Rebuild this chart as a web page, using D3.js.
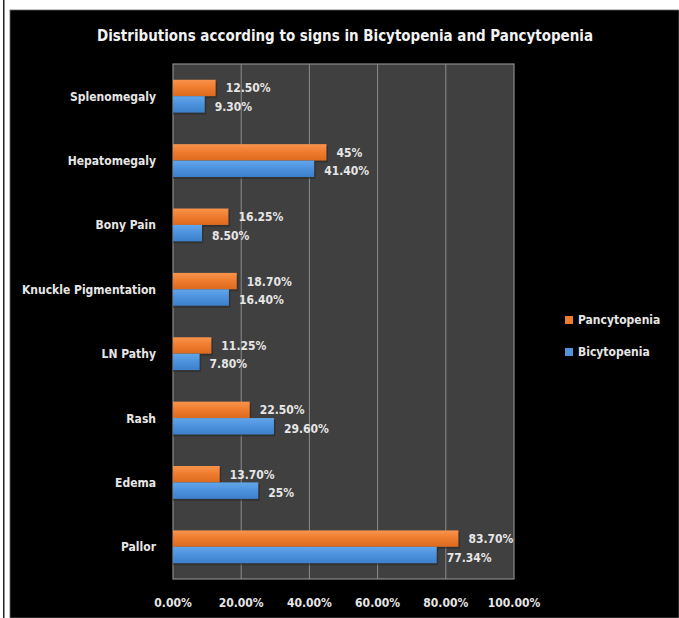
<!DOCTYPE html>
<html>
<head>
<meta charset="utf-8">
<script src="https://cdn.jsdelivr.net/npm/d3@7"></script>
<style>
	body { margin: 0; background: #fff; }
	text { font-family: "DejaVu Sans Condensed", "DejaVu Sans", sans-serif; font-weight: bold; fill: #e6e6e6; }
</style>
</head>
<body>
<div id="chart"></div>
<script>
var categories = ["Splenomegaly", "Hepatomegaly", "Bony Pain", "Knuckle Pigmentation", "LN Pathy", "Rash", "Edema", "Pallor"];
var seriesNames = ["Pancytopenia", "Bicytopenia"];
var pancytopenia = [12.5, 45, 16.25, 18.7, 11.25, 22.5, 13.7, 83.7];
var bicytopenia = [9.3, 41.4, 8.5, 16.4, 7.8, 29.6, 25, 77.34];
var pancyLabels = ["12.50%", "45%", "16.25%", "18.70%", "11.25%", "22.50%", "13.70%", "83.70%"];
var bicyLabels = ["9.30%", "41.40%", "8.50%", "16.40%", "7.80%", "29.60%", "25%", "77.34%"];
var tickValues = [0, 20, 40, 60, 80, 100];
var tickLabels = ["0.00%", "20.00%", "40.00%", "60.00%", "80.00%", "100.00%"];

(function() {
	var width = 679, height = 618;

	var svg = d3.select("#chart")
		.append("svg")
		.attr("width", width)
		.attr("height", height)

	// page frame: white with a thin dark line, chart area black
	svg.append("rect").attr("x", 3).attr("y", 0).attr("width", 1.5).attr("height", height).attr("fill", "#222")
	svg.append("rect").attr("x", 10).attr("y", 10).attr("width", width - 10).attr("height", height - 10)
		.attr("fill", "#000").attr("stroke", "#666").attr("stroke-width", 0.8)

	var defs = svg.append("defs")
	var grads = [
		{id: "gOrange", stops: ["#f8944c", "#ee7b2d", "#dc6a1f"]},
		{id: "gBlue", stops: ["#62a6ea", "#4b91dc", "#3d80cb"]}
	]
	grads.forEach(function(g) {
		var lg = defs.append("linearGradient").attr("id", g.id).attr("x1", 0).attr("y1", 0).attr("x2", 0).attr("y2", 1)
		lg.append("stop").attr("offset", "0%").attr("stop-color", g.stops[0])
		lg.append("stop").attr("offset", "50%").attr("stop-color", g.stops[1])
		lg.append("stop").attr("offset", "100%").attr("stop-color", g.stops[2])
	})

	var left = 173, right = 514, top = 64, bottom = 579;

	var x = d3.scaleLinear().domain([0, 100]).range([left, right])
	var y = d3.scaleBand().domain(categories).range([top, bottom]).paddingInner(0.49).paddingOuter(0.245)
	var sub = d3.scaleBand().domain(seriesNames).range([0, y.bandwidth()])

	// plot area
	svg.append("rect").attr("x", left).attr("y", top).attr("width", right - left).attr("height", bottom - top)
		.attr("fill", "#404040")

	svg.append("g").selectAll("line")
		.data(tickValues.slice(1, -1))
		.enter().append("line")
		.attr("x1", function(d) { return x(d) }).attr("x2", function(d) { return x(d) })
		.attr("y1", top).attr("y2", bottom)
		.attr("stroke", "#8c8c8c").attr("stroke-width", 1)

	svg.append("rect").attr("x", left).attr("y", top).attr("width", right - left).attr("height", bottom - top)
		.attr("fill", "none").attr("stroke", "#8a8a8a").attr("stroke-width", 1.2)

	var rows = categories.map(function(c, i) {
		return [
			{cat: c, name: "Pancytopenia", value: pancytopenia[i], label: pancyLabels[i], fill: "url(#gOrange)", dy: 1},
			{cat: c, name: "Bicytopenia", value: bicytopenia[i], label: bicyLabels[i], fill: "url(#gBlue)", dy: 3}
		]
	})
	var bars = d3.merge(rows)

	// soft shadow under each bar
	svg.append("g").selectAll("rect")
		.data(bars)
		.enter().append("rect")
		.attr("x", x(0))
		.attr("y", function(d) { return y(d.cat) + sub(d.name) + 2 })
		.attr("width", function(d) { return x(d.value) - x(0) + 1.5 })
		.attr("height", sub.bandwidth())
		.attr("fill", "#262626").attr("opacity", 0.55)

	svg.append("g").selectAll("rect")
		.data(bars)
		.enter().append("rect")
		.attr("x", x(0))
		.attr("y", function(d) { return y(d.cat) + sub(d.name) })
		.attr("width", function(d) { return x(d.value) - x(0) })
		.attr("height", sub.bandwidth())
		.attr("fill", function(d) { return d.fill })

	svg.append("g").selectAll("text")
		.data(bars)
		.enter().append("text")
		.attr("x", function(d) { return x(d.value) + 10 })
		.attr("y", function(d) { return y(d.cat) + sub(d.name) + sub.bandwidth() / 2 + d.dy })
		.attr("dominant-baseline", "middle")
		.style("font-size", "12px")
		.text(function(d) { return d.label })

	// category labels
	svg.append("g").selectAll("text")
		.data(categories)
		.enter().append("text")
		.attr("x", 156)
		.attr("y", function(d) { return y(d) + y.bandwidth() / 2 + 1 })
		.attr("text-anchor", "end")
		.attr("dominant-baseline", "middle")
		.style("font-size", "12px")
		.text(function(d) { return d })

	// x tick labels
	svg.append("g").selectAll("text")
		.data(tickValues)
		.enter().append("text")
		.attr("x", function(d) { return x(d) })
		.attr("y", 603)
		.attr("text-anchor", "middle")
		.attr("dominant-baseline", "middle")
		.style("font-size", "12px")
		.text(function(d, i) { return tickLabels[i] })

	// title
	svg.append("text")
		.attr("x", 345).attr("y", 36)
		.attr("text-anchor", "middle")
		.attr("dominant-baseline", "middle")
		.attr("textLength", 496).attr("lengthAdjust", "spacingAndGlyphs")
		.style("font-size", "15px")
		.style("fill", "#f2f2f2")
		.text("Distributions according to signs in Bicytopenia and Pancytopenia")

	// legend
	var legend = svg.append("g").selectAll("g")
		.data([{name: "Pancytopenia", fill: "#ef7d2e"}, {name: "Bicytopenia", fill: "#4f94dd"}])
		.enter().append("g")
		.attr("transform", function(d, i) { return "translate(565," + (316 + i * 32) + ")" })
	legend.append("rect").attr("width", 8).attr("height", 8).attr("fill", function(d) { return d.fill })
	legend.append("text").attr("x", 13).attr("y", 4.5)
		.attr("dominant-baseline", "middle")
		.style("font-size", "12px")
		.text(function(d) { return d.name })
})();
</script>
</body>
</html>
